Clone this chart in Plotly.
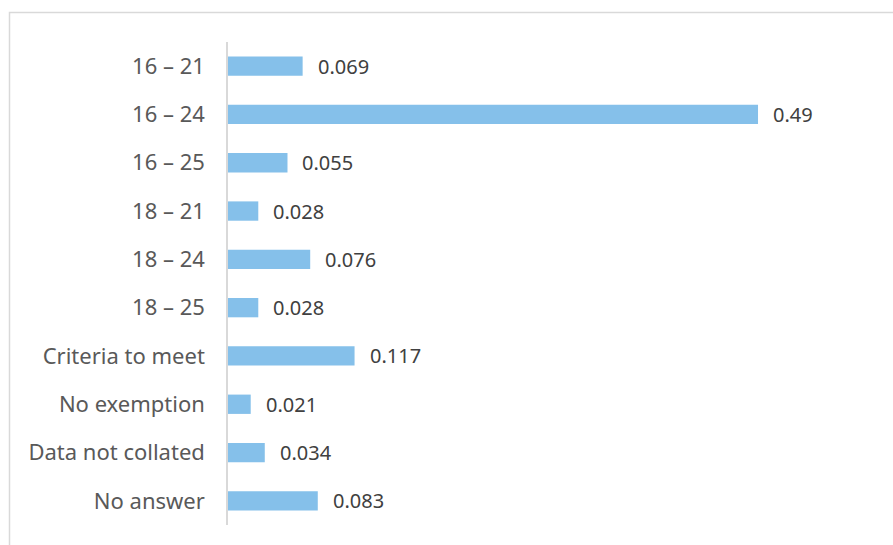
import plotly.graph_objects as go

categories = ["16 – 21", "16 – 24", "16 – 25", "18 – 21", "18 – 24", "18 – 25",
              "Criteria to meet", "No exemption", "Data not collated", "No answer"]
values = [0.069, 0.49, 0.055, 0.028, 0.076, 0.028, 0.117, 0.021, 0.034, 0.083]

W, H = 893, 545
ml, mr, mt, mb = 228, 16, 42, 20

fig = go.Figure(go.Bar(
    x=values, y=categories, orientation="h",
    marker=dict(color="#85c0ea", line=dict(width=0)),
    width=0.4, hoverinfo="skip",
))

for c, v in zip(categories, values):
    fig.add_annotation(x=v, y=c, text=str(v), showarrow=False,
                       xanchor="left", xshift=13,
                       font=dict(family="Noto Sans, Lato, sans-serif", size=20, color="#404040"))

# outer chart frame (runs past the right and bottom page edges)
pw, ph = W - ml - mr, H - mt - mb
fig.add_shape(type="rect", xref="paper", yref="paper",
              x0=(9.5 - ml) / pw, x1=(W + 5 - ml) / pw,
              y0=-(mb + 5) / ph, y1=1 + (mt - 12.5) / ph,
              line=dict(color="#d9d9d9", width=1.5), fillcolor="rgba(0,0,0,0)", layer="below")

fig.update_layout(
    width=W, height=H, margin=dict(l=ml, r=mr, t=mt, b=mb),
    paper_bgcolor="white", plot_bgcolor="white", showlegend=False,
    xaxis=dict(range=[0, 0.6], visible=False, showgrid=False, zeroline=False),
    yaxis=dict(autorange="reversed", showgrid=False, zeroline=False,
               showline=True, linecolor="#d9d9d9", linewidth=1.5,
               ticks="", ticklabelstandoff=17,
               tickfont=dict(family="Noto Sans, Lato, sans-serif", size=22, color="#595959")),
)

fig.write_html("out.html")
